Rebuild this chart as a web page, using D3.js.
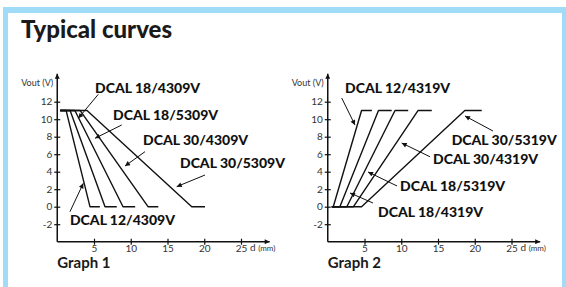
<!DOCTYPE html>
<html>
<head>
<meta charset="utf-8">
<script src="https://cdn.jsdelivr.net/npm/d3@7"></script>
<style>
  body { margin: 0; background: #fff; }
  .tick text { font-family: Lato, sans-serif; font-size: 10px; fill: #333; }
  .lbl { font-family: Lato, sans-serif; font-weight: 900; font-size: 14px; fill: #111; }
</style>
</head>
<body>
<script>
// tick values
const vTicks = [-2, 0, 2, 4, 6, 8, 10, 12];
const dTicks = [5, 10, 15, 20, 25];

// graph 1: output falls from 11 V to 0 V as distance grows
const g1Names = ["DCAL 12/4309V", "DCAL 18/4309V", "DCAL 18/5309V", "DCAL 30/4309V", "DCAL 30/5309V"];
const g1Curves = [
  [[0.4, 11], [1.2, 11], [4.45, 0], [5.8, 0]],
  [[0.4, 11], [1.75, 11], [6.5, 0], [8.1, 0]],
  [[0.4, 11], [2.4, 11], [8.95, 0], [10.6, 0]],
  [[0.4, 11], [3.1, 11], [12.35, 0], [13.75, 0]],
  [[0.4, 11], [4.05, 11], [18.3, 0], [20.1, 0]]
];

// graph 2: output rises from 0 V to 11 V
const g2Names = ["DCAL 12/4319V", "DCAL 18/4319V", "DCAL 18/5319V", "DCAL 30/4319V", "DCAL 30/5319V"];
const g2Curves = [
  [[0.55, 0], [0.75, 0], [4.6, 11], [6.0, 11]],
  [[0.55, 0], [1.65, 0], [6.9, 11], [8.7, 11]],
  [[0.55, 0], [2.6, 0], [9.15, 11], [10.95, 11]],
  [[0.55, 0], [3.5, 0], [12.3, 11], [14.15, 11]],
  [[0.55, 0], [4.6, 0], [18.65, 11], [20.95, 11]]
];

const W = 566, H = 287;
const svg = d3.select("body").append("svg")
  .attr("width", W)
  .attr("height", H);

// light blue frame
svg.append("rect").attr("x", 3).attr("y", 7).attr("width", W).attr("height", H).attr("fill", "#a0dcf8");
svg.append("rect").attr("x", 8).attr("y", 13).attr("width", 554).attr("height", H).attr("fill", "#fff");

svg.append("text")
  .attr("x", 21).attr("y", 38)
  .style("font-family", "Lato, sans-serif")
  .style("font-weight", 900)
  .style("font-size", "24px")
  .attr("fill", "#1a1a1a")
  .text("Typical curves");

const defs = svg.append("defs");
defs.append("marker")
  .attr("id", "arr")
  .attr("viewBox", "0 0 10 10")
  .attr("refX", 10).attr("refY", 5)
  .attr("markerWidth", 7).attr("markerHeight", 5)
  .attr("markerUnits", "userSpaceOnUse")
  .attr("orient", "auto")
  .append("path").attr("d", "M0,0L10,5L0,10z").attr("fill", "#111");

function graph(left, names, curves, notes, title) {
  const x = d3.scaleLinear().domain([0, 5]).range([left, left + 36.75]);
  const y = d3.scaleLinear().domain([0, 12]).range([206.7, 101.7]);
  const g = svg.append("g");

  // axes
  const yAxis = g.append("g")
    .attr("transform", "translate(" + x(0) + ",0)")
    .call(d3.axisLeft(y).tickValues(vTicks).tickFormat(d => String(d)).tickSize(3).tickPadding(2));
  const xAxis = g.append("g")
    .attr("transform", "translate(0," + y(-4) + ")")
    .call(d3.axisBottom(x).tickValues(dTicks).tickFormat(d => String(d)).tickSize(3).tickPadding(0));
  [yAxis, xAxis].forEach(a => {
    a.select(".domain").remove();
    a.selectAll(".tick line").attr("stroke", "#111").attr("stroke-width", 1.2);
  });
  yAxis.selectAll(".tick line").attr("x1", 3);
  xAxis.selectAll(".tick line").attr("y1", -3);

  g.append("line")
    .attr("x1", x(0)).attr("x2", x(0))
    .attr("y1", y(-4)).attr("y2", y(15.2))
    .attr("stroke", "#111").attr("stroke-width", 1.5)
    .attr("marker-end", "url(#arr)");
  g.append("line")
    .attr("x1", x(0)).attr("x2", x(28.9))
    .attr("y1", y(-4)).attr("y2", y(-4))
    .attr("stroke", "#111").attr("stroke-width", 1.5)
    .attr("marker-end", "url(#arr)");

  g.append("text")
    .attr("x", x(0) - 4).attr("y", 86)
    .attr("text-anchor", "end")
    .style("font-family", "Lato, sans-serif").style("font-size", "9px").attr("fill", "#333")
    .text("Vout (V)");
  const dl = g.append("text")
    .attr("x", x(25) + 9).attr("y", 251)
    .style("font-family", "Lato, sans-serif").style("font-size", "10px").attr("fill", "#333");
  dl.append("tspan").text("d ");
  dl.append("tspan").style("font-size", "8px").text("(mm)");

  g.append("text")
    .attr("x", x(0)).attr("y", 268)
    .style("font-family", "Lato, sans-serif").style("font-weight", 700).style("font-size", "15px")
    .attr("fill", "#1a1a1a")
    .text(title);

  // curves
  const line = d3.line().x(d => x(d[0])).y(d => y(d[1]));
  g.selectAll(".curve")
    .data(curves)
    .enter().append("path")
    .attr("class", "curve")
    .attr("d", line)
    .attr("fill", "none")
    .attr("stroke", "#111")
    .attr("stroke-width", 1.4)
    .attr("stroke-linejoin", "round");

  // labels with pointer arrows
  notes.forEach((n, i) => {
    g.append("text").attr("class", "lbl")
      .attr("x", x(n.t[0])).attr("y", y(n.t[1]))
      .text(names[i]);
    g.append("line")
      .attr("x1", x(n.a[0])).attr("y1", y(n.a[1]))
      .attr("x2", x(n.b[0])).attr("y2", y(n.b[1]))
      .attr("stroke", "#111").attr("stroke-width", 1)
      .attr("marker-end", "url(#arr)");
  });
}

graph(57.25, g1Names, g1Curves, [
  { t: [1.73, -2.09], a: [1.73, -0.57], b: [3.54, 2.67] },
  { t: [5.14, 13.0], a: [5.59, 12.85], b: [2.86, 10.1] },
  { t: [7.59, 9.91], a: [8.77, 9.34], b: [5.14, 7.82] },
  { t: [11.67, 7.05], a: [11.94, 6.29], b: [9.22, 4.65] },
  { t: [16.7, 4.42], a: [20.1, 3.62], b: [16.25, 2.29] }
], "Graph 1");

graph(327.75, g2Names, g2Curves, [
  { t: [2.35, 13.0], a: [1.9, 12.42], b: [3.71, 9.33] },
  { t: [6.84, -1.14], a: [6.16, 0.42], b: [3.03, 1.57] },
  { t: [9.83, 1.83], a: [9.42, 2.37], b: [5.48, 3.97] },
  { t: [14.32, 4.87], a: [13.91, 5.71], b: [10.06, 7.28] },
  { t: [16.86, 7.05], a: [22.48, 8.65], b: [18.67, 10.37] }
], "Graph 2");
</script>
</body>
</html>
